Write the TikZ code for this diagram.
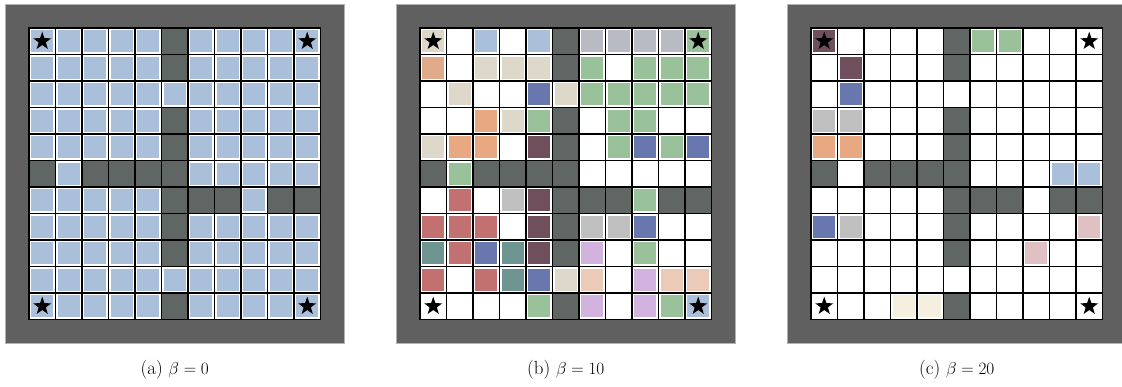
\documentclass[tikz,border=0pt]{standalone}
\usepackage{tikz}
\usetikzlibrary{shapes.geometric}

\definecolor{framegray}{HTML}{606060}
\definecolor{wal}{HTML}{5F6664}
\definecolor{wht}{HTML}{FFFFFF}
\definecolor{sky}{HTML}{A9BFDA}
\definecolor{bge}{HTML}{DDD8CA}
\definecolor{sla}{HTML}{B8BAC4}
\definecolor{sag}{HTML}{99C29A}
\definecolor{tan}{HTML}{DFAB8A}
\definecolor{apr}{HTML}{E8A882}
\definecolor{ind}{HTML}{6878AE}
\definecolor{plm}{HTML}{6E4F5B}
\definecolor{ros}{HTML}{C27070}
\definecolor{sil}{HTML}{C0C0C0}
\definecolor{tea}{HTML}{6E9592}
\definecolor{lil}{HTML}{D2B3E0}
\definecolor{pch}{HTML}{EBCAB7}
\definecolor{pnk}{HTML}{DFC1C4}
\definecolor{crm}{HTML}{F5EFDF}

\newcommand{\celsz}{26.5}
\newcommand{\ins}{2.3}

% wall cells of the four rooms
\newcommand{\drawwalls}{%
  \foreach \r/\c in {0/5,1/5,3/5,4/5,5/5,6/5,7/5,8/5,10/5,5/0,5/2,5/3,5/4,6/6,6/7,6/9,6/10}
    \fill[wallcell] (\c*\celsz,\r*\celsz) rectangle ++(\celsz,\celsz);}

% black grid lines
\newcommand{\drawgrid}{%
  \foreach \i in {0,...,11} {
    \draw[gridline] (\i*\celsz,0) -- (\i*\celsz,11*\celsz);
    \draw[gridline] (0,\i*\celsz) -- (11*\celsz,\i*\celsz);
  }}

\begin{document}
\begin{tikzpicture}[
x=1pt,y=-1pt,
panel/.style={fill=framegray,draw=black!30,line width=0.6pt},
wallcell/.style={fill=wal},
gridline/.style={line width=1.3pt,black,line cap=rect},
goal/.style={star,star points=5,star point ratio=2.5,fill=black,
  inner sep=0pt,minimum size=19pt},
caption/.style={font=\fontsize{19}{22}\selectfont}
]
\useasboundingbox (0,0) rectangle (1122,387);

% (a) beta = 0
\begin{scope}[shift={(29,28)}]
\fill[panel] (-24,-24) rectangle (11*\celsz+24,315);
\fill[white] (0,0) rectangle (11*\celsz,11*\celsz);
\foreach \r in {0,...,10}
  \foreach \c in {0,...,10}
    \fill[sky] (\c*\celsz+\ins,\r*\celsz+\ins) rectangle ++(\celsz-2*\ins,\celsz-2*\ins);
\drawwalls
\drawgrid
\node[goal] (aTL) at (0.5*\celsz,0.5*\celsz) {};
\node[goal] (aTR) at (10.5*\celsz,0.5*\celsz) {};
\node[goal] (aBL) at (0.5*\celsz,10.5*\celsz) {};
\node[goal] (aBR) at (10.5*\celsz,10.5*\celsz) {};
\node[caption] (capa) at (5.5*\celsz,342) {(a) $\beta = 0$};
\end{scope}

% (b) beta = 10
\begin{scope}[shift={(420,28)}]
\fill[panel] (-24,-24) rectangle (11*\celsz+24,315);
\fill[white] (0,0) rectangle (11*\celsz,11*\celsz);
\foreach \row [count=\r from 0] in {
  {bge,wht,sky,wht,sky,wal,sla,sla,sla,sla,sag},
  {tan,wht,bge,bge,bge,wal,sag,wht,sag,sag,sag},
  {wht,bge,wht,wht,ind,bge,sag,sag,sag,sag,sag},
  {wht,wht,apr,bge,sag,wal,wht,sag,sag,wht,wht},
  {bge,apr,apr,wht,plm,wal,wht,sag,ind,sag,ind},
  {wal,sag,wal,wal,wal,wal,wht,wht,wht,wht,wht},
  {wht,ros,wht,sil,plm,wal,wal,wal,sag,wal,wal},
  {ros,ros,ros,wht,plm,wal,sil,sil,ind,wht,wht},
  {tea,ros,ind,tea,plm,wal,lil,wht,sag,wht,wht},
  {ros,wht,ros,tea,ind,bge,pch,wht,lil,pch,pch},
  {wht,wht,wht,wht,sag,wal,lil,wht,lil,sag,sky}}
  \foreach \col [count=\c from 0] in \row
    \fill[\col] (\c*\celsz+\ins,\r*\celsz+\ins) rectangle ++(\celsz-2*\ins,\celsz-2*\ins);
\drawwalls
\drawgrid
\node[goal] (bTL) at (0.5*\celsz,0.5*\celsz) {};
\node[goal] (bTR) at (10.5*\celsz,0.5*\celsz) {};
\node[goal] (bBL) at (0.5*\celsz,10.5*\celsz) {};
\node[goal] (bBR) at (10.5*\celsz,10.5*\celsz) {};
\node[caption] (capb) at (5.5*\celsz,342) {(b) $\beta = 10$};
\end{scope}

% (c) beta = 20
\begin{scope}[shift={(811,28)}]
\fill[panel] (-24,-24) rectangle (11*\celsz+24,315);
\fill[white] (0,0) rectangle (11*\celsz,11*\celsz);
\foreach \row [count=\r from 0] in {
  {plm,wht,wht,wht,wht,wal,sag,sag,wht,wht,wht},
  {wht,plm,wht,wht,wht,wal,wht,wht,wht,wht,wht},
  {wht,ind,wht,wht,wht,wht,wht,wht,wht,wht,wht},
  {sil,sil,wht,wht,wht,wal,wht,wht,wht,wht,wht},
  {apr,apr,wht,wht,wht,wal,wht,wht,wht,wht,wht},
  {wal,wht,wal,wal,wal,wal,wht,wht,wht,sky,sky},
  {wht,wht,wht,wht,wht,wal,wal,wal,wht,wal,wal},
  {ind,sil,wht,wht,wht,wal,wht,wht,wht,wht,pnk},
  {wht,wht,wht,wht,wht,wal,wht,wht,pnk,wht,wht},
  {wht,wht,wht,wht,wht,wht,wht,wht,wht,wht,wht},
  {wht,wht,wht,crm,crm,wal,wht,wht,wht,wht,wht}}
  \foreach \col [count=\c from 0] in \row
    \fill[\col] (\c*\celsz+\ins,\r*\celsz+\ins) rectangle ++(\celsz-2*\ins,\celsz-2*\ins);
\drawwalls
\drawgrid
\node[goal] (cTL) at (0.5*\celsz,0.5*\celsz) {};
\node[goal] (cTR) at (10.5*\celsz,0.5*\celsz) {};
\node[goal] (cBL) at (0.5*\celsz,10.5*\celsz) {};
\node[goal] (cBR) at (10.5*\celsz,10.5*\celsz) {};
\node[caption] (capc) at (5.5*\celsz,342) {(c) $\beta = 20$};
\end{scope}

\end{tikzpicture}
\end{document}
